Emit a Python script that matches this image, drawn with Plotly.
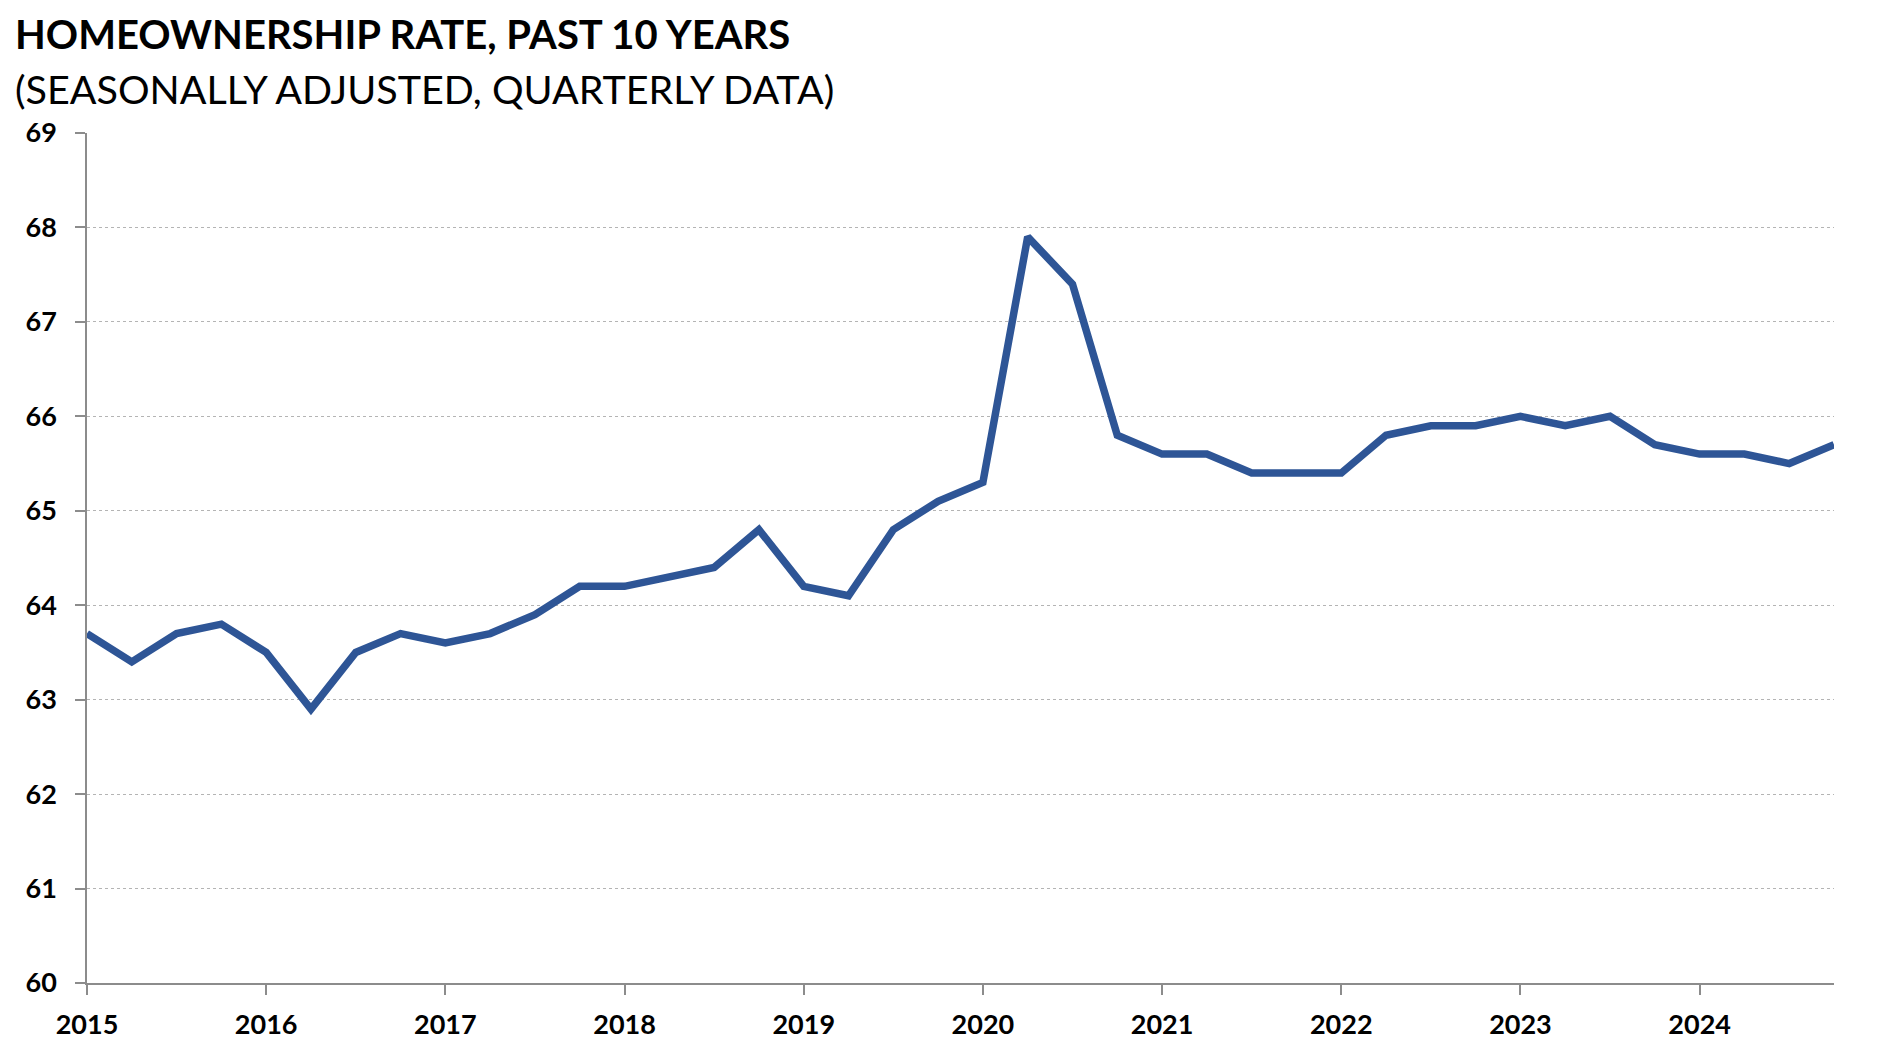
import plotly.graph_objects as go

# Quarterly homeownership rate, seasonally adjusted (%)
years = list(range(2015, 2025))
quarters = [y + q / 4 for y in years for q in range(4)]
rate = [
    63.7, 63.4, 63.7, 63.8,   # 2015
    63.5, 62.9, 63.5, 63.7,   # 2016
    63.6, 63.7, 63.9, 64.2,   # 2017
    64.2, 64.3, 64.4, 64.8,   # 2018
    64.2, 64.1, 64.8, 65.1,   # 2019
    65.3, 67.9, 67.4, 65.8,   # 2020
    65.6, 65.6, 65.4, 65.4,   # 2021
    65.4, 65.8, 65.9, 65.9,   # 2022
    66.0, 65.9, 66.0, 65.7,   # 2023
    65.6, 65.6, 65.5, 65.7,   # 2024
]
y_ticks = list(range(60, 70))

title = "HOMEOWNERSHIP RATE, PAST 10 YEARS"
subtitle = "(SEASONALLY ADJUSTED, QUARTERLY DATA)"

font = "Lato"
line_color = "#2E5596"
axis_color = "#8C8C8C"

# plot area in pixels
L, R, T, B = 79, 59, 125, 85
H = 1060 - T - B
W = 1885 - L - R


def px_x(p):
    return (p - L) / W


def px_y(p):
    return (1060 - B - p) / H


fig = go.Figure()
fig.add_trace(go.Scatter(
    x=quarters, y=rate, mode="lines",
    line=dict(color=line_color, width=7.5),
    hoverinfo="x+y",
))

fig.update_layout(
    width=1885, height=1060,
    margin=dict(l=L, r=R, t=T, b=B),
    plot_bgcolor="white", paper_bgcolor="white",
    showlegend=False,
    font=dict(family=font, color="black"),
    annotations=[
        dict(text="<b>" + title + "</b>", xref="paper", yref="paper",
             x=px_x(5), y=px_y(26), xanchor="left", yanchor="middle",
             showarrow=False, font=dict(size=40, family=font)),
        dict(text=subtitle, xref="paper", yref="paper",
             x=px_x(5), y=px_y(80.5), xanchor="left", yanchor="middle",
             showarrow=False, font=dict(size=39.5, family=font)),
    ],
)

fig.update_xaxes(
    range=[quarters[0], quarters[-1]],
    tickvals=years, ticktext=[str(y) for y in years],
    showgrid=False, zeroline=False,
    showline=True, linecolor=axis_color, linewidth=1.5,
    ticks="outside", ticklen=10, tickcolor=axis_color, tickwidth=1.5,
    tickfont=dict(size=27, family=font, color="black", weight="bold"),
    ticklabelstandoff=7,
)
fig.update_yaxes(
    range=[60, 69], tickvals=y_ticks,
    showgrid=True, gridcolor="#B4B4B4", gridwidth=1, griddash="dot",
    zeroline=False,
    showline=True, linecolor=axis_color, linewidth=1.5,
    ticks="outside", ticklen=10, tickcolor=axis_color, tickwidth=1.5,
    tickfont=dict(size=27, family=font, color="black", weight="bold"),
    ticklabelstandoff=13,
)

fig.write_html("out.html")
